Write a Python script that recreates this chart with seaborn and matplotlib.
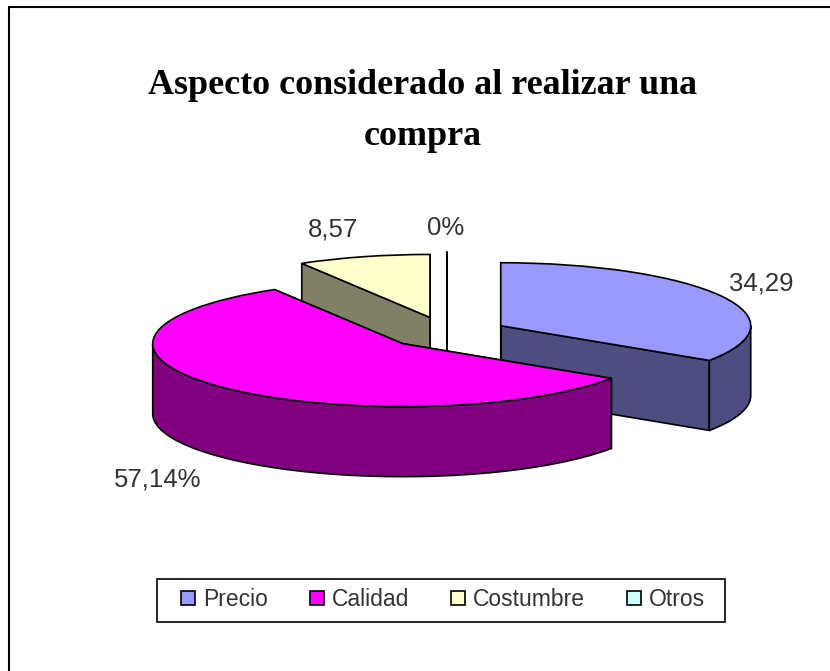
import numpy as np
import matplotlib
matplotlib.use("Agg")
import matplotlib.pyplot as plt
from matplotlib.lines import Line2D
from matplotlib.patches import Rectangle
import seaborn as sns

title = "Aspecto considerado al realizar una\ncompra"
categories = ["Precio", "Calidad", "Costumbre", "Otros"]
values = [34.29, 57.14, 8.57, 0.0]
value_labels = ["34,29", "57,14%", "8,57", "0%"]
top_colors = ["#9999FF", "#FF00FF", "#FFFFCC", "#CCFFFF"]
wall_colors = ["#4D4D80", "#800080", "#808066", "#FFFFFF"]
explode = [0.244, 0.245, 0.256, 0.29]

sns.set_theme(style="white")
plt.rcParams["font.family"] = ["Liberation Sans", "DejaVu Sans"]

W, H = 830, 671
fig = plt.figure(figsize=(W / 100, H / 100), dpi=100, facecolor="white")
ax = fig.add_axes([0, 0, 1, 1])

# pie geometry in pixels
cx, cy, rx, ry, depth_px = 447, 333, 250, 63, 70
depth = depth_px / ry
palette = sns.color_palette(top_colors)

wedges, _ = ax.pie(values, startangle=90, counterclock=False, explode=explode,
                   colors=palette, radius=1,
                   wedgeprops=dict(edgecolor="black", linewidth=1.2))
ax.set_aspect("auto")
ax.set_xlim((0 - cx) / rx, (W - cx) / rx)
ax.set_ylim((cy - H) / ry, cy / ry)

edge = dict(edgecolor="black", linewidth=1.2)
for order, i in enumerate([2, 3, 0, 1]):
    w = wedges[i]
    base = 10 + order * 10
    w.set_zorder(base + 5)
    x0, y0 = w.center
    r = w.r
    # the two cut faces
    for k, th in enumerate([w.theta1, w.theta2]):
        t = np.deg2rad(th)
        xe, ye = x0 + r * np.cos(t), y0 + r * np.sin(t)
        ax.fill([x0, xe, xe, x0], [y0, ye, ye - depth, y0 - depth],
                facecolor=wall_colors[i], zorder=base + k, **edge)
    # outer rim, front half only
    th = np.deg2rad(np.linspace(w.theta1, w.theta2, 400))
    th = th[np.sin(th) <= 0]
    if th.size > 1:
        xa, ya = x0 + r * np.cos(th), y0 + r * np.sin(th)
        ax.fill(np.r_[xa, xa[::-1]], np.r_[ya, ya[::-1] - depth],
                facecolor=wall_colors[i], zorder=base + 3, **edge)

# title and labels
fig.text(423 / W, 1 - 111 / H, title, ha="center", va="center", color="black",
         family="Liberation Serif", weight="bold", fontsize=25.9, linespacing=1.72)

label_px = [(761, 283), (158, 479), (333, 229), (446, 228)]
for txt, (px, py) in zip(value_labels, label_px):
    fig.text(px / W, 1 - py / H, txt, ha="center", va="center",
             fontsize=18.5, color="#333333")

# legend box and entries
ax.add_patch(Rectangle((157 / W, 1 - 622 / H), 568 / W, 43 / H,
                       transform=fig.transFigure, facecolor="white",
                       edgecolor="black", linewidth=1.2, zorder=90,
                       clip_on=False))
leg = ax.legend(wedges, categories, ncol=4, mode="expand", loc="lower left",
                bbox_to_anchor=(181 / W, 1 - 611 / H, 524 / W, 22 / H),
                bbox_transform=fig.transFigure, fontsize=16.5, frameon=False,
                handlelength=0.62, handleheight=0.62, handletextpad=0.35,
                borderaxespad=0, borderpad=0, labelcolor="#333333")
leg.set_zorder(100)
for h in leg.get_patches():
    h.set_linewidth(1.2)

# chart border (left and top edges visible in frame)
fig.add_artist(Line2D([9 / W, 9 / W], [0, 1 - 7 / H], color="black", lw=1.5))
fig.add_artist(Line2D([9 / W, 1], [1 - 7 / H, 1 - 7 / H], color="black", lw=1.5))

fig.savefig("out.png", dpi=100, facecolor="white")
